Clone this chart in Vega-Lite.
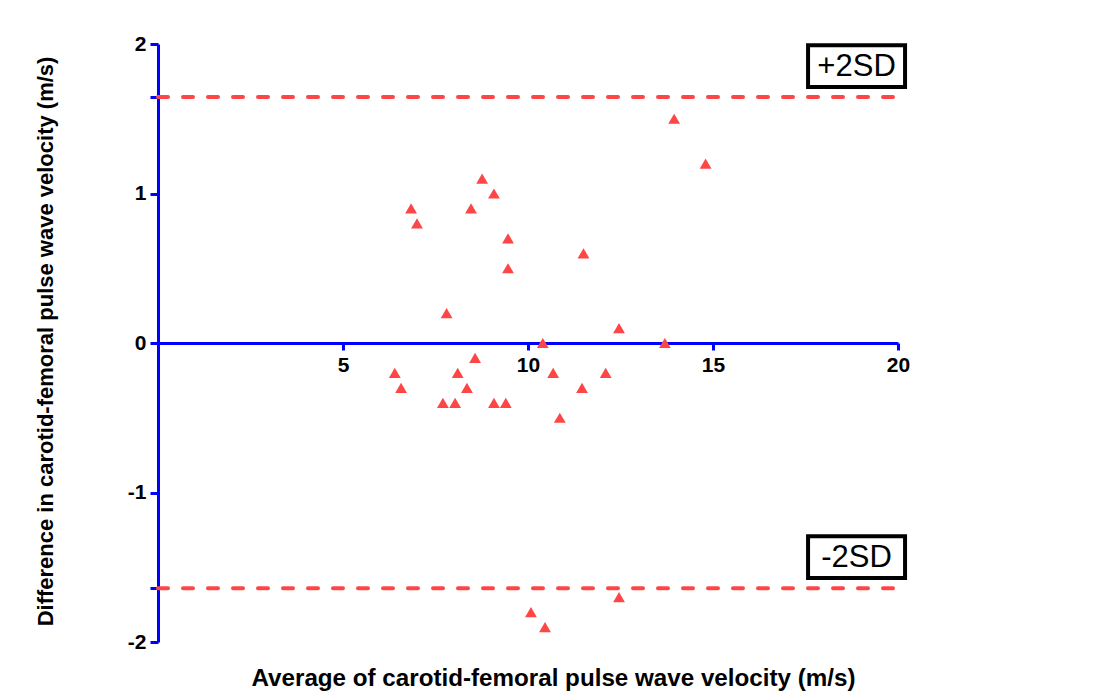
{
  "$schema": "https://vega.github.io/schema/vega-lite/v6.json",
  "width": 740,
  "height": 598,
  "autosize": "none",
  "padding": {"left": 158, "top": 44, "right": 206, "bottom": 57},
  "background": "white",
  "config": {"view": {"stroke": null}, "font": "Liberation Sans"},
  "datasets": {
    "points": [
      {"avg": 6.4, "diff": -0.2}, {"avg": 6.57, "diff": -0.3}, {"avg": 6.84, "diff": 0.9},
      {"avg": 7.0, "diff": 0.8}, {"avg": 7.7, "diff": -0.4}, {"avg": 7.8, "diff": 0.2},
      {"avg": 8.03, "diff": -0.4}, {"avg": 8.1, "diff": -0.2}, {"avg": 8.35, "diff": -0.3},
      {"avg": 8.46, "diff": 0.9}, {"avg": 8.57, "diff": -0.1}, {"avg": 8.76, "diff": 1.1},
      {"avg": 9.08, "diff": -0.4}, {"avg": 9.08, "diff": 1.0}, {"avg": 9.4, "diff": -0.4},
      {"avg": 9.46, "diff": 0.7}, {"avg": 9.46, "diff": 0.5}, {"avg": 10.4, "diff": 0.0},
      {"avg": 10.68, "diff": -0.2}, {"avg": 10.86, "diff": -0.5}, {"avg": 10.08, "diff": -1.8},
      {"avg": 10.46, "diff": -1.9}, {"avg": 11.46, "diff": -0.3}, {"avg": 11.5, "diff": 0.6},
      {"avg": 12.1, "diff": -0.2}, {"avg": 12.46, "diff": 0.1}, {"avg": 12.46, "diff": -1.7},
      {"avg": 13.7, "diff": 0.0}, {"avg": 13.95, "diff": 1.5}, {"avg": 14.8, "diff": 1.2}
    ],
    "limits": [
      {"label": "+2SD", "value": 1.645},
      {"label": "-2SD", "value": -1.64}
    ]
  },
  "layer": [
    {
      "data": {"name": "limits"},
      "mark": {"type": "rule", "color": "#ff4646", "strokeWidth": 4, "strokeDash": [10, 15], "strokeCap": "round"},
      "encoding": {
        "x": {"datum": 0, "type": "quantitative"},
        "x2": {"datum": 20},
        "y": {"field": "value", "type": "quantitative"}
      }
    },
    {
      "data": {"name": "points"},
      "mark": {"type": "point", "shape": "triangle-up", "filled": true, "color": "#ff4646", "opacity": 1, "size": 140},
      "encoding": {
        "x": {
          "field": "avg", "type": "quantitative",
          "scale": {"domain": [0, 20], "nice": false},
          "axis": {
            "title": "Average of carotid-femoral pulse wave velocity (m/s)",
            "values": [0, 5, 10, 15, 20],
            "labelExpr": "datum.value == 0 ? '' : datum.label",
            "labelFlush": false,
            "offset": -299,
            "grid": false,
            "domainColor": "#0000ff", "domainWidth": 3,
            "tickColor": "#0000ff", "tickWidth": 3, "tickSize": 7,
            "labelFont": "Liberation Sans", "labelFontWeight": "bold", "labelFontSize": 21, "labelColor": "black",
            "labelPadding": 4,
            "titleFont": "Liberation Sans", "titleFontWeight": "bold", "titleFontSize": 24.2, "titleColor": "black",
            "titleY": 323, "titleX": 395
          }
        },
        "y": {
          "field": "diff", "type": "quantitative",
          "scale": {"domain": [-2, 2], "nice": false},
          "axis": {
            "title": "Difference in carotid-femoral pulse wave velocity (m/s)",
            "values": [-2, -1.64, -1, 0, 1, 1.645, 2],
            "labelExpr": "datum.value == 2 ? '2' : datum.value == 1 ? '1' : datum.value == 0 ? '0' : datum.value == -1 ? '-1' : datum.value == -2 ? '-2' : ''",
            "grid": false,
            "domainColor": "#0000ff", "domainWidth": 3,
            "tickColor": "#0000ff", "tickWidth": 3, "tickSize": 8,
            "labelFont": "Liberation Sans", "labelFontWeight": "bold", "labelFontSize": 21, "labelColor": "black",
            "labelPadding": 4,
            "titleFont": "Liberation Sans", "titleFontWeight": "bold", "titleFontSize": 22, "titleColor": "black",
            "titleX": -101, "titleY": 297, "titleBaseline": "bottom", "titleAngle": -90
          }
        }
      }
    },
    {
      "data": {"name": "limits"},
      "mark": {"type": "point", "shape": "M-1,-0.43H1V0.43H-1Z", "size": 9409, "filled": false, "fill": "white", "fillOpacity": 1, "stroke": "black", "strokeWidth": 4, "opacity": 1, "yOffset": -31},
      "encoding": {
        "x": {"datum": 18.88, "type": "quantitative"},
        "y": {"field": "value", "type": "quantitative"}
      }
    },
    {
      "data": {"name": "limits"},
      "mark": {"type": "text", "font": "Liberation Sans", "fontSize": 31, "color": "black", "align": "center", "baseline": "middle", "yOffset": -30},
      "encoding": {
        "x": {"datum": 18.88, "type": "quantitative"},
        "y": {"field": "value", "type": "quantitative"},
        "text": {"field": "label"}
      }
    }
  ]
}
